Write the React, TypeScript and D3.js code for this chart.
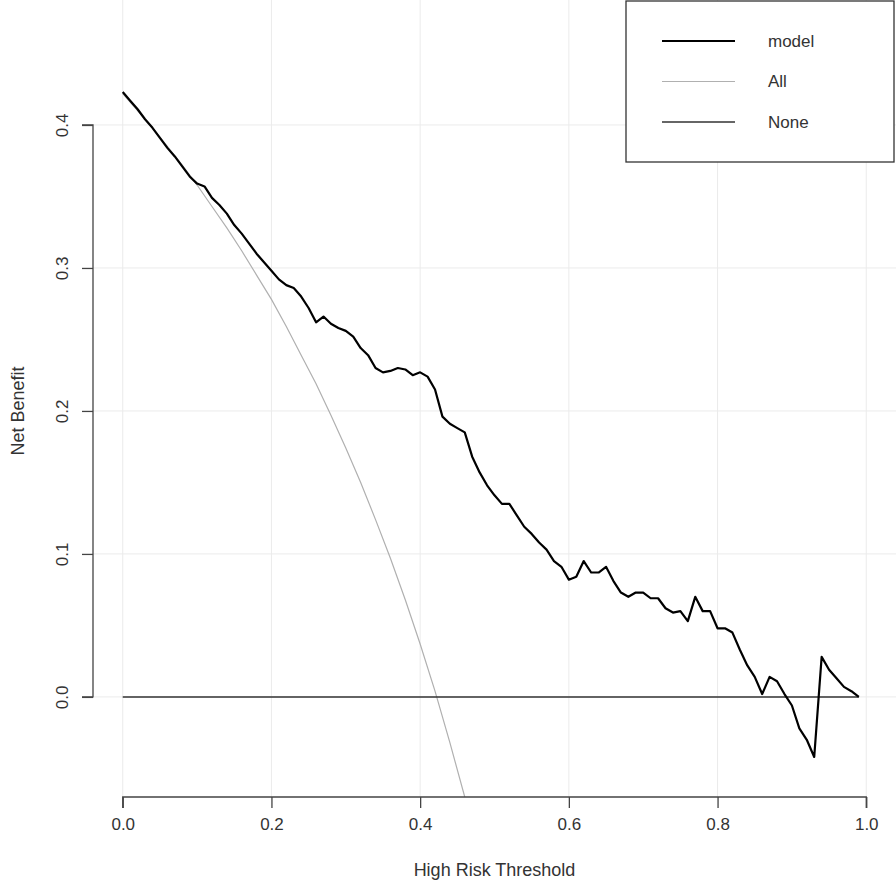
import { useEffect, useRef } from "react"
import * as d3 from "d3"

// thresholds / net benefit
const modelThresholds = d3.range(0, 100).map((i) => i / 100)
const modelNetBenefit = [
  0.423, 0.417, 0.411, 0.404, 0.398, 0.391, 0.384, 0.378, 0.371, 0.364,
  0.359, 0.357, 0.349, 0.344, 0.338, 0.33, 0.324, 0.317, 0.31, 0.304,
  0.298, 0.292, 0.288, 0.286, 0.28, 0.272, 0.262, 0.266, 0.261, 0.258,
  0.256, 0.252, 0.244, 0.239, 0.23, 0.227, 0.228, 0.23, 0.229, 0.225,
  0.227, 0.224, 0.215, 0.196, 0.191, 0.188, 0.185, 0.168, 0.157, 0.148,
  0.141, 0.135, 0.135, 0.127, 0.119, 0.114, 0.108, 0.103, 0.095, 0.091,
  0.082, 0.084, 0.095, 0.087, 0.087, 0.091, 0.081, 0.073, 0.07, 0.073,
  0.073, 0.069, 0.069, 0.062, 0.059, 0.06, 0.053, 0.07, 0.06, 0.06,
  0.048, 0.048, 0.045, 0.033, 0.022, 0.014, 0.002, 0.014, 0.011, 0.002,
  -0.006, -0.022, -0.03, -0.042, 0.028, 0.019, 0.013, 0.007, 0.004, 0.0,
]

const allThresholds = [
  0, 0.02, 0.04, 0.06, 0.08, 0.1, 0.12, 0.14, 0.16, 0.18, 0.2, 0.22, 0.24,
  0.26, 0.28, 0.3, 0.32, 0.34, 0.36, 0.38, 0.4, 0.42, 0.44, 0.46, 0.48,
]
const allNetBenefit = [
  0.422, 0.41, 0.398, 0.385, 0.372, 0.358, 0.343, 0.328, 0.312, 0.295, 0.278,
  0.259, 0.239, 0.219, 0.197, 0.174, 0.15, 0.124, 0.097, 0.068, 0.037, 0.004,
  -0.032, -0.07, -0.112,
]

const noneThresholds = [0, 0.99]
const noneNetBenefit = [0, 0]

const xTicks = [0, 0.2, 0.4, 0.6, 0.8, 1.0]
const yTicks = [0, 0.1, 0.2, 0.3, 0.4]

const legendLabels = ["model", "All", "None"]

export default function App() {
  const svgRef = useRef(null)

  useEffect(() => {
    if (!svgRef.current) return
    const svg = d3.select(svgRef.current)
    svg.selectAll("*").remove()

    const width = 896
    const height = 884
    const font = "Liberation Sans, Arial, sans-serif"
    const textColor = "#333"

    // plot region
    const left = 93
    const right = 896
    const top = 0
    const bottom = 797

    const x = d3.scaleLinear().domain([-0.04, 1.04]).range([left, right])
    const y = d3.scaleLinear().domain([-0.07, 0.4874]).range([bottom, top])

    svg.append("rect").attr("width", width).attr("height", height).attr("fill", "#fff")

    svg.append("defs")
      .append("clipPath")
      .attr("id", "plot-clip")
      .append("rect")
      .attr("x", left)
      .attr("y", top)
      .attr("width", right - left)
      .attr("height", bottom - top)

    // 网格线
    const grid = svg.append("g")
    grid.selectAll(".vgrid")
      .data(xTicks)
      .enter()
      .append("line")
      .attr("x1", (d) => x(d))
      .attr("x2", (d) => x(d))
      .attr("y1", top)
      .attr("y2", bottom)
      .attr("stroke", "#ebebeb")
      .attr("stroke-width", 1)
    grid.selectAll(".hgrid")
      .data(yTicks)
      .enter()
      .append("line")
      .attr("x1", left)
      .attr("x2", right)
      .attr("y1", (d) => y(d))
      .attr("y2", (d) => y(d))
      .attr("stroke", "#ebebeb")
      .attr("stroke-width", 1)

    const plot = svg.append("g").attr("clip-path", "url(#plot-clip)")

    const line = d3
      .line<[number, number]>()
      .x((d) => x(d[0]))
      .y((d) => y(d[1]))

    // All
    plot.append("path")
      .datum(allThresholds.map((t, i) => [t, allNetBenefit[i]] as [number, number]))
      .attr("fill", "none")
      .attr("stroke", "#b0b0b0")
      .attr("stroke-width", 1.2)
      .attr("d", line)

    // None
    plot.append("path")
      .datum(noneThresholds.map((t, i) => [t, noneNetBenefit[i]] as [number, number]))
      .attr("fill", "none")
      .attr("stroke", "#333")
      .attr("stroke-width", 1.5)
      .attr("d", line)

    // model
    plot.append("path")
      .datum(modelThresholds.map((t, i) => [t, modelNetBenefit[i]] as [number, number]))
      .attr("fill", "none")
      .attr("stroke", "#000")
      .attr("stroke-width", 2.2)
      .attr("stroke-linejoin", "round")
      .attr("d", line)

    // X轴
    const xAxis = svg.append("g").attr("transform", `translate(0,${bottom})`)
    xAxis.call(
      d3.axisBottom(x).tickValues(xTicks).tickSize(11).tickPadding(10).tickFormat(d3.format(".1f")),
    )
    xAxis.select(".domain").attr("d", `M${x(0)},11V0H${x(1)}V11`).attr("stroke", "#444").attr("stroke-width", 1.3)
    xAxis.selectAll(".tick line").attr("stroke", "#444").attr("stroke-width", 1.3)
    xAxis.selectAll("text").attr("font-size", "17px").attr("font-family", font).attr("fill", textColor)

    // Y轴
    const yAxis = svg.append("g").attr("transform", `translate(${left},0)`)
    yAxis.call(d3.axisLeft(y).tickValues(yTicks).tickSize(11).tickFormat(d3.format(".1f")))
    yAxis.select(".domain").attr("d", `M-11,${y(0)}H0V${y(0.4)}H-11`).attr("stroke", "#444").attr("stroke-width", 1.3)
    yAxis.selectAll(".tick line").attr("stroke", "#444").attr("stroke-width", 1.3)
    yAxis.selectAll("text")
      .attr("font-size", "17px")
      .attr("font-family", font)
      .attr("fill", textColor)
      .attr("x", null)
      .attr("dy", null)
      .attr("text-anchor", "middle")
      .attr("transform", "translate(-25,0) rotate(-90)")
      .attr("y", 0)

    // 轴标题
    svg.append("text")
      .attr("x", x(0.5))
      .attr("y", 876)
      .attr("text-anchor", "middle")
      .attr("font-size", "18px")
      .attr("font-family", font)
      .attr("fill", textColor)
      .text("High Risk Threshold")

    svg.append("text")
      .attr("transform", `translate(24,${y(0.2)}) rotate(-90)`)
      .attr("text-anchor", "middle")
      .attr("font-size", "18px")
      .attr("font-family", font)
      .attr("fill", textColor)
      .text("Net Benefit")

    // 图例
    const legend = svg.append("g")
    legend.append("rect")
      .attr("x", 626)
      .attr("y", 1)
      .attr("width", 268)
      .attr("height", 161)
      .attr("fill", "#fff")
      .attr("stroke", "#333")
      .attr("stroke-width", 1.3)

    const legendStyles = [
      { color: "#000", width: 2.2 },
      { color: "#b0b0b0", width: 1.2 },
      { color: "#333", width: 1.5 },
    ]
    legendLabels.forEach((label, i) => {
      const ly = 41 + i * 40.5
      legend.append("line")
        .attr("x1", 662)
        .attr("x2", 735)
        .attr("y1", ly)
        .attr("y2", ly)
        .attr("stroke", legendStyles[i].color)
        .attr("stroke-width", legendStyles[i].width)
      legend.append("text")
        .attr("x", 768)
        .attr("y", ly)
        .attr("dy", "0.35em")
        .attr("font-size", "17px")
        .attr("font-family", font)
        .attr("fill", textColor)
        .text(label)
    })

    svg.attr("width", width).attr("height", height).attr("viewBox", [0, 0, width, height])
  }, [])

  return <svg ref={svgRef} style={{ position: "absolute", left: 0, top: 0, display: "block" }}></svg>
}
